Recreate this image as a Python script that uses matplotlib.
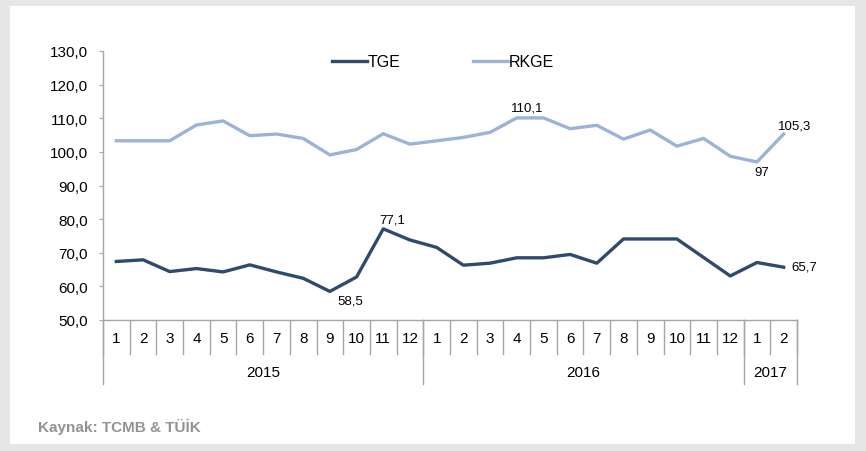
import matplotlib
matplotlib.use('Agg')
import matplotlib.pyplot as plt
from matplotlib.patches import Rectangle
from matplotlib.ticker import FuncFormatter
from matplotlib.transforms import blended_transform_factory

# Data
months = [1, 2, 3, 4, 5, 6, 7, 8, 9, 10, 11, 12,
          1, 2, 3, 4, 5, 6, 7, 8, 9, 10, 11, 12,
          1, 2]
years = ['2015', '2016', '2017']
year_counts = [12, 12, 2]
tge = [67.4, 67.9, 64.4, 65.3, 64.3, 66.4, 64.3, 62.4, 58.5, 62.8, 77.1, 73.8,
       71.6, 66.3, 66.9, 68.5, 68.5, 69.5, 66.9, 74.1, 74.1, 74.1, 68.6, 63.1,
       67.1, 65.7]
rkge = [103.3, 103.3, 103.3, 108.0, 109.2, 104.8, 105.3, 104.0, 99.1, 100.7, 105.4, 102.3,
        103.3, 104.3, 105.8, 110.1, 110.1, 106.9, 107.9, 103.8, 106.5, 101.7, 104.0, 98.7,
        97.0, 105.3]

# labelled points: (series, index, text, dx, dy) offsets in pixels
labels = [('tge', 10, '77,1', 9, 9), ('tge', 8, '58,5', 20, -9),
          ('tge', 25, '65,7', 21, 1), ('rkge', 15, '110,1', 10, 10),
          ('rkge', 24, '97', 5, -10), ('rkge', 25, '105,3', 11, 9)]

dark = '#2e4b6d'
light = '#9cb2d7'
grey_line = '#a6a6a6'

W, H = 866, 452
fig = plt.figure(figsize=(W / 100, H / 100), dpi=100)
fig.patch.set_facecolor('#e6e6e6')
fig.patches.append(Rectangle((10 / W, 7 / H), 845 / W, 438 / H, transform=fig.transFigure,
                             facecolor='white', edgecolor='none', zorder=-10))

ax_l, ax_r, ax_t, ax_b = 103, 797, 52, 321
ax = fig.add_axes([ax_l / W, 1 - ax_b / H, (ax_r - ax_l) / W, (ax_b - ax_t) / H])
ax.set_facecolor('none')
ax_h = ax_b - ax_t

x = list(range(len(months)))
ax.plot(x, tge, color=dark, lw=2.4, label='TGE')
ax.plot(x, rkge, color=light, lw=2.4, label='RKGE')

ax.set_xlim(-0.5, len(months) - 0.5)
ax.set_ylim(50, 130)
ax.set_yticks(range(50, 131, 10))
ax.yaxis.set_major_formatter(FuncFormatter(lambda v, p: f'{v:.1f}'.replace('.', ',')))
ax.tick_params(axis='y', length=3, color=grey_line, labelsize=11, pad=8)
ax.set_xticks([])
for s in ['top', 'right']:
    ax.spines[s].set_visible(False)
for s in ['left', 'bottom']:
    ax.spines[s].set_color(grey_line)
    ax.spines[s].set_linewidth(1)
for t in ax.get_yticklabels():
    t.set_fontfamily('Liberation Sans')

# category axis (months and years)
tr = blended_transform_factory(ax.transData, ax.transAxes)
month_depth = 34 / ax_h
year_depth = 64 / ax_h
for i, m in enumerate(months):
    ax.text(i, -18 / ax_h, str(m), transform=tr, ha='center', va='center',
            fontsize=11, family='Liberation Sans')
for i in range(len(months) + 1):
    ax.plot([i - 0.5, i - 0.5], [0, -month_depth], transform=tr, color=grey_line,
            lw=1, clip_on=False)
start = 0
ax.plot([-0.5, -0.5], [0, -year_depth], transform=tr, color=grey_line, lw=1, clip_on=False)
for yr, n in zip(years, year_counts):
    end = start + n
    ax.plot([end - 0.5, end - 0.5], [0, -year_depth], transform=tr, color=grey_line,
            lw=1, clip_on=False)
    ax.text((start + end - 1) / 2, -52 / ax_h, yr, transform=tr, ha='center', va='center',
            fontsize=11, family='Liberation Sans')
    start = end

# data labels
series = {'tge': tge, 'rkge': rkge}
for name, idx, txt, dx, dy in labels:
    ax.annotate(txt, (idx, series[name][idx]), xytext=(dx * 0.72, dy * 0.72),
                textcoords='offset points', ha='center', va='center',
                fontsize=9.5, family='Liberation Sans')

leg = fig.legend(loc='center', bbox_to_anchor=(443 / W, 1 - 63 / H), ncol=2, frameon=False,
                 handlelength=2.2, handletextpad=0.05, columnspacing=4.5,
                 prop={'family': 'Liberation Sans', 'size': 11.5})

fig.text(38 / W, 1 - 427 / H, 'Kaynak: TCMB & TÜİK', ha='left', va='center',
         fontsize=11, fontweight='bold', color='#939393', family='Liberation Sans')

fig.savefig('out.png', dpi=100, facecolor=fig.get_facecolor())
